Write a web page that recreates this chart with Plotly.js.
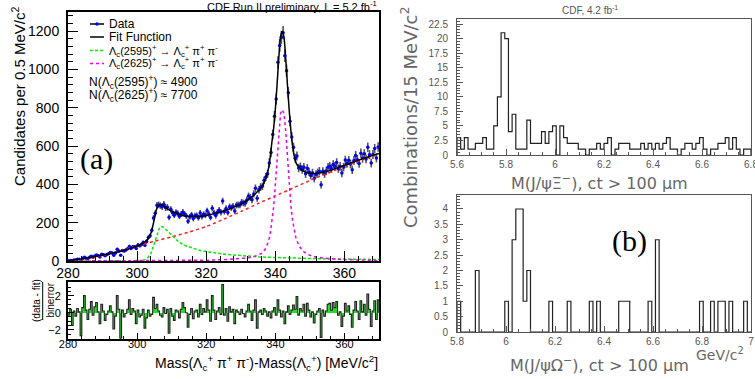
<!DOCTYPE html>
<html><head><meta charset="utf-8">
<script src="https://cdn.plot.ly/plotly-3.0.1.min.js"></script>
<style>html,body{margin:0;padding:0;background:#fff}#c{width:755px;height:379px}</style>
</head><body><div id="c"></div>
<script>
// ---------------- DATA ----------------
// Left: Lambda_c pi pi mass difference, 0.5 MeV bins from 280 to 370
const massLo = 280, massBin = 0.5;
const dataCounts = [1,3,1,5,5,9,9,2,14,20, 15,13,20,25,20,26,31,27,21,35,
 33,28,34,38,44,42,30,42,61,52, 30,55,52,58,64,76,65,74,75,65,
 83,80,86,97,82,102,123,132,161,225, 249,291,293,289,283,296,278,280,228,270,
 252,239,254,249,234,246,255,245,235,208, 230,241,222,236,238,226,250,232,244,239,
 262,246,227,276,252,237,255,265,254,313, 258,274,253,283,278,286,261,292,293,292,
 307,303,301,319,339,332,320,350,380,327, 372,386,390,421,439,456,512,566,660,756,
 846,1037,1125,1168,1192,1072,993,878,730,648, 594,537,548,485,492,478,490,455,484,465,
 447,460,431,453,461,469,398,468,455,470, 490,495,482,504,495,514,482,494,459,490,
 527,509,526,506,476,525,551,529,509,563, 536,560,533,594,555,511,556,587,538,595];
const residuals = [-0.3,0.4,-1.5,0.2,-0.4,0.5,0.1,-2.7,0.6,2.0, 0.3,-0.8,0.4,1.3,-0.3,0.7,1.2,0.1,-1.3,1.0,
 0.2,-0.9,-0.2,0.2,0.8,0.1,-1.9,-0.4,2.0,0.4, -3.0,0.3,-0.5,-0.1,0.4,1.5,-0.2,0.5,0.2,-1.3,
 0.3,-0.5,-0.3,0.4,-1.8,-0.6,0.3,-0.4,-0.2,1.8, 0.5,1.0,0.2,-0.3,-0.5,0.6,-0.1,0.4,-2.4,0.5,
 -0.4,-0.9,0.3,0.2,-0.6,0.4,1.2,0.6,0.0,-1.7, -0.2,0.5,-0.7,0.2,0.3,-0.5,1.0,-0.2,0.5,0.1,
 1.5,0.3,-1.0,2.0,0.3,-0.8,0.2,0.6,-0.2,3.3, -0.3,0.5,-1.0,0.7,0.1,0.4,-1.3,0.3,0.1,-0.2,
 0.4,-0.1,-0.5,0.2,1.0,0.2,-0.9,0.3,1.5,-1.8, 0.1,0.3,-0.2,0.5,0.2,-0.4,0.1,-0.6,0.2,0.6,
 -0.3,1.5,0.3,-0.5,0.2,-1.3,0.1,0.8,-0.2,0.3, 0.9,0.4,1.9,-0.3,0.5,0.2,1.0,-0.4,1.1,0.3,
 -0.5,0.1,-1.2,-0.2,0.2,0.5,-2.9,0.3,-0.4,0.2, 1.0,1.1,0.3,1.2,0.6,1.3,-0.3,0.1,-1.6,-0.4,
 1.1,0.2,0.8,-0.2,-1.7,0.3,1.3,0.2,-0.8,1.4, 0.1,1.0,-0.3,2.2,0.4,-1.6,0.2,1.4,-0.8,1.5];
const fitMass = [280,282,284,286,288,290,292,294,296,298,300,301,302,303,304,305,305.5,306,306.5,307,307.5,308,309,310,311,312,313,314,316,318,320,322,324,326,328,330,332,333,334,335,336,337,338,338.5,339,339.5,340,340.5,341,341.5,342,342.5,343,343.5,344,344.5,345,345.5,346,347,348,349,350,352,354,356,358,360,362,364,366,368,370];
const fitValue = [0,6,11,17,24,31,38,46,55,66,78,86,96,112,145,220,262,286,294,294,289,283,270,260,251,244,238,235,233,234,238,246,256,267,281,297,318,332,348,365,385,420,480,540,620,690,790,920,1060,1170,1200,1170,1060,920,790,680,600,545,512,485,470,462,458,457,463,473,487,500,513,526,538,550,561];
const bkgMass = [280,282,284,286,288,290,292,294,296,298,300,305,310,315,320,325,330,335,340,345,350,355,360,365,370];
const bkgValue = [0,3,8,14,21,29,38,48,58,69,80,103,126,151,180,218,258,300,340,380,420,458,494,527,557];
const sig2595Mass = [280,300,301,302,303,304,305,305.5,306,306.5,307,307.5,308,309,310,311,312,314,316,318,320,322,324,326,328,330,335,340,345,350,355,360,365,370];
const sig2595Value = [0,0,1,5,15,40,95,130,158,174,180,178,170,152,132,115,100,80,66,56,49,43,38,34,31,28,22,18,15,13,11,10,9,8];
const sig2625Mass = [280,300,320,325,330,332,334,335,336,337,338,338.5,339,339.5,340,340.5,341,341.5,342,342.5,343,343.5,344,344.5,345,345.5,346,347,348,349,350,352,355,360,365,370];
const sig2625Value = [0,1,4,7,12,16,24,30,40,60,100,140,200,280,400,540,680,770,790,770,680,540,400,290,210,150,115,75,52,38,30,20,13,7,5,3];

// Right top: M(J/psi Xi-), 15 MeV bins from 5.6 GeV
const xiLo = 5.6, xiBin = 0.015;
const xiCounts = [3,1,3,1,1,2,2,3,1,1, 5,10,21,20,4,7,1,1,1,6, 2,2,2,4,2,4,5,0,5,3,
 2,2,2,1,1,0,1,1,2,1, 2,3,0,1,2,2,2,1,1,1, 2,1,2,1,2,1,2,3,1,1,
 0,1,2,2,1,2,3,1,0,1, 1,2,2,3,1,3,1,0,1,1];
// Right bottom: M(J/psi Omega-), 15 MeV bins from 5.8 GeV
const omLo = 5.8, omBin = 0.015;
const omCounts = [1,0,0,0,0,2,0,0,0,0, 0,0,0,1,0,3,4,4,1,2, 0,0,0,0,0,1,0,0,0,0,
 1,0,0,0,0,0,1,0,1,0, 0,0,0,0,1,1,1,0,0,0, 0,0,1,0,3,0,0,0,0,0,
 0,0,0,0,0,0,1,0,0,1, 0,1,1,0,1,0,0,0,1,0];

// ---------------- helpers ----------------
const W = 755, H = 379;
const px = x => x / W, py = y => 1 - y / H;
function centers(lo, w, n){ const a=[]; for(let i=0;i<n;i++) a.push(lo + w*(i+0.5)); return a; }
function stepXY(lo, w, vals){ // outline of a histogram, starting and ending at 0
  const xs=[lo], ys=[0];
  for(let i=0;i<vals.length;i++){ xs.push(lo+w*i); ys.push(vals[i]); }
  xs.push(lo+w*vals.length); ys.push(vals[vals.length-1]);
  xs.push(lo+w*vals.length); ys.push(0);
  return {xs, ys};
}
const mC = centers(massLo, massBin, dataCounts.length);
const resStep = stepXY(massLo, massBin, residuals);
const xiStep = stepXY(xiLo, xiBin, xiCounts);
const omStep = stepXY(omLo, omBin, omCounts);

const traces = [
  {x:mC, y:dataCounts, type:'scatter', mode:'markers', xaxis:'x', yaxis:'y',
   marker:{color:'#0000ff', size:3.5}, error_y:{type:'sqrt', color:'#555', thickness:1.6, width:0}},
  {x:bkgMass, y:bkgValue, type:'scatter', mode:'lines', xaxis:'x', yaxis:'y', line:{color:'#ff2020', width:1.5, dash:'dot', shape:'spline', smoothing:0.6}},
  {x:sig2595Mass, y:sig2595Value, type:'scatter', mode:'lines', xaxis:'x', yaxis:'y', line:{color:'#00ee00', width:1.5, dash:'3px,2px'}},
  {x:sig2625Mass, y:sig2625Value, type:'scatter', mode:'lines', xaxis:'x', yaxis:'y', line:{color:'#ee00ee', width:1.5, dash:'dot'}},
  {x:fitMass, y:fitValue, type:'scatter', mode:'lines', xaxis:'x', yaxis:'y', line:{color:'#000', width:1.5, shape:'spline', smoothing:0.5}},
  {x:mC, y:residuals, type:'bar', xaxis:'x2', yaxis:'y2', width:massBin, marker:{color:'#22e022', line:{width:0}}},
  {x:resStep.xs, y:resStep.ys, type:'scatter', mode:'lines', xaxis:'x2', yaxis:'y2', line:{color:'#222', width:1.1, shape:'hv'}},
  {x:xiStep.xs, y:xiStep.ys, type:'scatter', mode:'lines', xaxis:'x3', yaxis:'y3', line:{color:'#222', width:1.2, shape:'hv'}},
  {x:omStep.xs, y:omStep.ys, type:'scatter', mode:'lines', xaxis:'x4', yaxis:'y4', line:{color:'#222', width:1.2, shape:'hv'}}
];

const fontL = 'Liberation Sans, Arial, sans-serif';
const fontR = 'DejaVu Sans, sans-serif';
const gray = '#555';
const axL = (extra) => Object.assign({showgrid:false, zeroline:false, ticks:'inside', mirror:true, showline:true,
  linecolor:'#000', linewidth:2, tickcolor:'#000', tickwidth:1, tickfont:{family:fontL, size:14, color:'#000'}}, extra);
const axR = (extra) => Object.assign({showgrid:false, zeroline:false, ticks:'inside', mirror:true, showline:true,
  linecolor:gray, linewidth:1, tickcolor:gray, tickwidth:1, ticklabeloverflow:'allow',
  tickfont:{family:fontL, size:10, color:gray}}, extra);

const layout = {
  width:W, height:H, margin:{l:0,r:0,t:0,b:0}, showlegend:false,
  paper_bgcolor:'#fff', plot_bgcolor:'rgba(0,0,0,0)', bargap:0,
  xaxis: axL({domain:[px(68),px(379)], anchor:'y', range:[280,370], tick0:280, dtick:20, ticklen:10, ticklabelstandoff:-2,
    minor:{ticks:'inside', ticklen:5, dtick:4, tickcolor:'#000'}}),
  yaxis: axL({domain:[py(261),py(12)], anchor:'x', range:[0,1300], dtick:200, ticklen:10, ticklabelstandoff:4,
    minor:{ticks:'inside', ticklen:5, dtick:40, tickcolor:'#000'}}),
  xaxis2: axL({domain:[px(68),px(379)], anchor:'y2', range:[280,370], tick0:280, dtick:20, ticklen:6, ticklabelstandoff:-6,
    tickfont:{family:fontL, size:11, color:'#000'}, minor:{ticks:'inside', ticklen:3, dtick:4, tickcolor:'#000'}}),
  yaxis2: axL({domain:[py(339),py(282)], anchor:'x2', range:[-3.08,3.6], tickvals:[-2,0,2], ticklen:6, ticklabelstandoff:3,
    tickfont:{family:fontL, size:11, color:'#000'}, minor:{ticks:'inside', ticklen:3, dtick:0.5, tickcolor:'#000'}}),
  xaxis3: axR({domain:[px(457),px(751)], anchor:'y3', range:[5.6,6.8], tick0:5.6, dtick:0.2, ticklen:6,
    minor:{ticks:'inside', ticklen:3, dtick:0.05, tickcolor:gray}}),
  yaxis3: axR({domain:[py(155),py(19)], anchor:'x3', range:[0,23.36], dtick:2.5, ticklen:6, ticklabelstandoff:6,
    minor:{ticks:'inside', ticklen:3, dtick:0.5, tickcolor:gray}}),
  xaxis4: axR({domain:[px(457),px(751)], anchor:'y4', range:[5.8,7.0], tick0:5.8, dtick:0.2, ticklen:6,
    minor:{ticks:'inside', ticklen:3, dtick:0.05, tickcolor:gray}}),
  yaxis4: axR({domain:[py(332),py(195)], anchor:'x4', range:[0,4.455], dtick:0.5, ticklen:6, ticklabelstandoff:6,
    minor:{ticks:'inside', ticklen:3, dtick:0.1, tickcolor:gray}}),
  shapes: [
    {type:'line', xref:'paper', yref:'paper', x0:px(90), x1:px(104), y0:py(24), y1:py(24), line:{color:'#000', width:1.5}},
    {type:'circle', xref:'paper', yref:'paper', x0:px(95.3), x1:px(98.7), y0:py(25.7), y1:py(22.3), fillcolor:'#0000ff', line:{width:0}},
    {type:'line', xref:'paper', yref:'paper', x0:px(90), x1:px(104), y0:py(37), y1:py(37), line:{color:'#000', width:1.5}},
    {type:'line', xref:'paper', yref:'paper', x0:px(90), x1:px(104), y0:py(50.5), y1:py(50.5), line:{color:'#00ee00', width:1.5, dash:'3px,2px'}},
    {type:'line', xref:'paper', yref:'paper', x0:px(90), x1:px(104), y0:py(63.5), y1:py(63.5), line:{color:'#ee00ee', width:1.5, dash:'dot'}},
    {type:'line', xref:'paper', yref:'paper', x0:px(42.7), x1:px(42.7), y0:py(282), y1:py(320), line:{color:'#000', width:1}}
  ],
  annotations: [
    {text:'CDF Run II preliminary, L = 5.2 fb<sup>-1</sup>', xref:'paper', yref:'paper', x:px(379), y:py(6), xanchor:'right', yanchor:'middle', showarrow:false, font:{family:fontL, size:11, color:'#000'}},
    {text:'Data', xref:'paper', yref:'paper', x:px(107), y:py(24), xanchor:'left', yanchor:'middle', showarrow:false, font:{family:fontL, size:12, color:'#000'}},
    {text:'Fit Function', xref:'paper', yref:'paper', x:px(107), y:py(37), xanchor:'left', yanchor:'middle', showarrow:false, font:{family:fontL, size:12, color:'#000'}},
    {text:'Λ<sub>c</sub>(2595)<sup>+</sup> → Λ<sub>c</sub><sup>+</sup> π<sup>+</sup> π<sup>-</sup>', xref:'paper', yref:'paper', x:px(107), y:py(50.5), xanchor:'left', yanchor:'middle', showarrow:false, font:{family:fontL, size:11, color:'#000'}},
    {text:'Λ<sub>c</sub>(2625)<sup>+</sup> → Λ<sub>c</sub><sup>+</sup> π<sup>+</sup> π<sup>-</sup>', xref:'paper', yref:'paper', x:px(107), y:py(63.5), xanchor:'left', yanchor:'middle', showarrow:false, font:{family:fontL, size:11, color:'#000'}},
    {text:'N(Λ<sub>c</sub>(2595)<sup>+</sup>) ≈ 4900', xref:'paper', yref:'paper', x:px(87), y:py(82), xanchor:'left', yanchor:'middle', showarrow:false, font:{family:fontL, size:12, color:'#000'}},
    {text:'N(Λ<sub>c</sub>(2625)<sup>+</sup>) ≈ 7700', xref:'paper', yref:'paper', x:px(87), y:py(95), xanchor:'left', yanchor:'middle', showarrow:false, font:{family:fontL, size:12, color:'#000'}},
    {text:'(a)', xref:'paper', yref:'paper', x:px(96), y:py(159), xanchor:'center', yanchor:'middle', showarrow:false, font:{family:'Liberation Serif, serif', size:30, color:'#000'}},
    {text:'Candidates per 0.5 MeV/c<sup>2</sup>', xref:'paper', yref:'paper', x:px(19), y:py(97), xanchor:'center', yanchor:'middle', textangle:-90, showarrow:false, font:{family:fontL, size:15, color:'#000'}},
    {text:'(data - fit)', xref:'paper', yref:'paper', x:px(36), y:py(301), xanchor:'center', yanchor:'middle', textangle:-90, showarrow:false, font:{family:fontL, size:10, color:'#000'}},
    {text:'binerror', xref:'paper', yref:'paper', x:px(49.5), y:py(300), xanchor:'center', yanchor:'middle', textangle:-90, showarrow:false, font:{family:fontL, size:10, color:'#000'}},
    {text:'Mass(Λ<sub>c</sub><sup>+</sup> π<sup>+</sup> π<sup>-</sup>)-Mass(Λ<sub>c</sub><sup>+</sup>) [MeV/c<sup>2</sup>]', xref:'paper', yref:'paper', x:px(380), y:py(363), xanchor:'right', yanchor:'middle', showarrow:false, font:{family:fontL, size:14, color:'#000'}},
    {text:'CDF, 4.2 fb<sup>-1</sup>', xref:'paper', yref:'paper', x:px(590), y:py(10), xanchor:'center', yanchor:'middle', showarrow:false, font:{family:fontL, size:10, color:gray}},
    {text:'Combinations/15 MeV/c<sup>2</sup>', xref:'paper', yref:'paper', x:px(409), y:py(117), xanchor:'center', yanchor:'middle', textangle:-90, showarrow:false, font:{family:fontR, size:18, color:'#666'}},
    {text:'M(J/ψΞ<sup>−</sup>), ct > 100 μm', xref:'paper', yref:'paper', x:px(599), y:py(182), xanchor:'center', yanchor:'middle', showarrow:false, font:{family:fontR, size:16, color:'#666'}},
    {text:'M(J/ψΩ<sup>−</sup>), ct > 100 μm', xref:'paper', yref:'paper', x:px(599), y:py(364), xanchor:'center', yanchor:'middle', showarrow:false, font:{family:fontR, size:16, color:'#666'}},
    {text:'GeV/c<sup>2</sup>', xref:'paper', yref:'paper', x:px(746), y:py(354), xanchor:'right', yanchor:'middle', showarrow:false, font:{family:fontR, size:14, color:'#666'}},
    {text:'(b)', xref:'paper', yref:'paper', x:px(629), y:py(241), xanchor:'center', yanchor:'middle', showarrow:false, font:{family:'Liberation Serif, serif', size:30, color:'#000'}}
  ]
};
Plotly.newPlot('c', traces, layout, {staticPlot:true, displayModeBar:false});
</script></body></html>
